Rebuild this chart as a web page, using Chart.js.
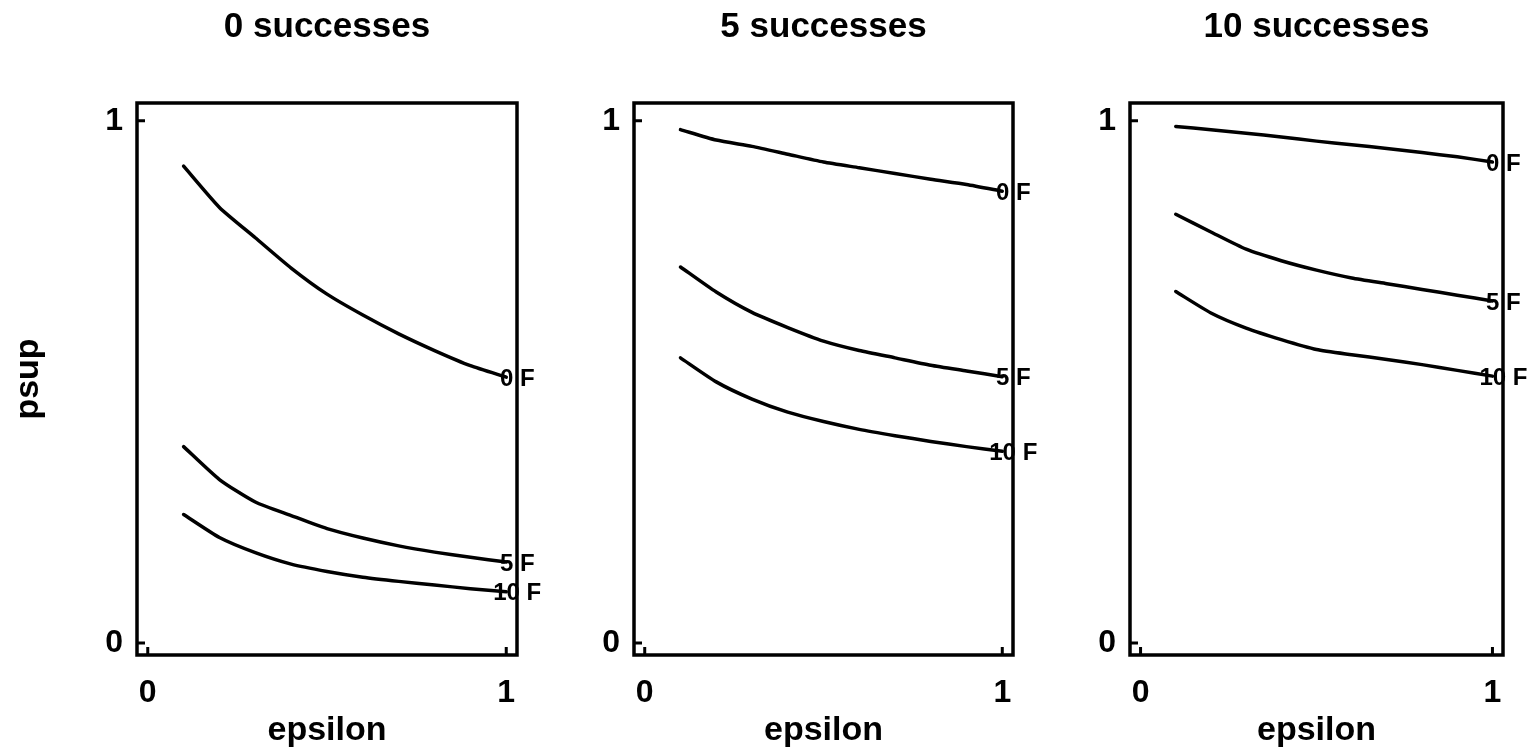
<!DOCTYPE html>
<html>
<head>
<meta charset="utf-8">
<title>psup vs epsilon</title>
<script src="https://cdn.jsdelivr.net/npm/chart.js@4/dist/chart.umd.min.js"></script>
<style>
  html, body { margin: 0; padding: 0; background: #fff; }
  #wrap { position: relative; width: 1530px; height: 755px; }
  #wrap canvas { position: absolute; left: 0; top: 0; }
</style>
</head>
<body>
<div id="wrap">
  <canvas id="panel0" width="1530" height="755"></canvas>
  <canvas id="panel1" width="1530" height="755"></canvas>
  <canvas id="panel2" width="1530" height="755"></canvas>
</div>
<script>
// x values shared by all curves
const epsilon = [0.1, 0.2, 0.3, 0.4, 0.5, 0.6, 0.7, 0.8, 0.9, 1.0];
const tickValues = [0, 1];
const panelTitles = ['0 successes', '5 successes', '10 successes'];
const curveLabels = ['0 F', '5 F', '10 F'];

// 0 successes
const psup0S0F = [0.913, 0.834, 0.776, 0.718, 0.668, 0.628, 0.592, 0.560, 0.531, 0.509];
const psup0S5F = [0.376, 0.313, 0.270, 0.244, 0.219, 0.201, 0.186, 0.174, 0.164, 0.155];
const psup0S10F = [0.246, 0.202, 0.173, 0.151, 0.137, 0.126, 0.118, 0.111, 0.104, 0.098];
// 5 successes
const psup5S0F = [0.983, 0.963, 0.951, 0.936, 0.921, 0.910, 0.899, 0.888, 0.878, 0.865];
const psup5S5F = [0.720, 0.672, 0.633, 0.604, 0.578, 0.560, 0.546, 0.532, 0.521, 0.510];
const psup5S10F = [0.546, 0.500, 0.467, 0.442, 0.424, 0.409, 0.397, 0.386, 0.376, 0.367];
// 10 successes
const psup10S0F = [0.989, 0.983, 0.976, 0.969, 0.961, 0.954, 0.947, 0.939, 0.931, 0.921];
const psup10S5F = [0.821, 0.787, 0.754, 0.732, 0.714, 0.699, 0.688, 0.677, 0.666, 0.655];
const psup10S10F = [0.673, 0.632, 0.603, 0.581, 0.562, 0.552, 0.543, 0.533, 0.522, 0.511];

const panelSeries = [
    [psup0S0F, psup0S5F, psup0S10F],
    [psup5S0F, psup5S5F, psup5S10F],
    [psup10S0F, psup10S5F, psup10S10F]
];

// frame edges of each panel (px)
const frameLeft = [137, 634, 1130];
const frameRight = [517, 1013, 1503];

const fontFamily = '"Liberation Sans", Arial, Helvetica, sans-serif';

// box around the plot, inward ticks and the curve end labels
const framePlugin = {
    id: 'frame',
    afterDatasetsDraw(chart) {
        const ctx = chart.ctx;
        const a = chart.chartArea;
        const x = chart.scales.x, y = chart.scales.y;
        ctx.save();
        ctx.strokeStyle = '#000';
        ctx.lineWidth = 3.5;
        ctx.strokeRect(a.left, a.top, a.right - a.left, a.bottom - a.top);

        ctx.lineWidth = 3;
        ctx.beginPath();
        tickValues.forEach(v => {
            const px = x.getPixelForValue(v);
            ctx.moveTo(px, a.bottom);
            ctx.lineTo(px, a.bottom - 8);
            const py = y.getPixelForValue(v);
            ctx.moveTo(a.left, py);
            ctx.lineTo(a.left + 8, py);
        });
        ctx.stroke();

        ctx.font = 'bold 24px ' + fontFamily;
        ctx.textAlign = 'center';
        ctx.textBaseline = 'middle';
        ctx.fillStyle = '#000';
        chart.data.datasets.forEach((ds, i) => {
            const pts = chart.getDatasetMeta(i).data;
            const p = pts[pts.length - 1];
            ctx.fillText(ds.label, p.x + 11, p.y + 2);
        });
        ctx.restore();
    }
};

function makePanel(i) {
    const yw = i === 0 ? 137 : 60;
    const ctx = document.getElementById('panel' + i).getContext('2d');
    return new Chart(ctx, {
        type: 'line',
        data: {
            datasets: panelSeries[i].map((vals, k) => ({
                label: curveLabels[k],
                data: epsilon.map((e, j) => ({ x: e, y: vals[j] })),
                borderColor: '#000',
                borderWidth: 3.5,
                borderJoinStyle: 'round',
                borderCapStyle: 'round',
                pointRadius: 0,
                tension: 0.2,
                fill: false
            }))
        },
        options: {
            responsive: false,
            animation: false,
            devicePixelRatio: 1,
            layout: {
                padding: { left: frameLeft[i] - yw, right: 1530 - frameRight[i], top: 0, bottom: 0 }
            },
            plugins: {
                legend: { display: false },
                tooltip: { enabled: false },
                title: {
                    display: true,
                    text: panelTitles[i],
                    fullSize: false,
                    color: '#000',
                    font: { family: fontFamily, size: 35, weight: 'bold' },
                    padding: { top: 6, bottom: 55 }
                }
            },
            scales: {
                x: {
                    type: 'linear',
                    min: -0.03,
                    max: 1.03,
                    afterBuildTicks: s => { s.ticks = tickValues.map(v => ({ value: v })); },
                    afterFit: s => { s.height = 100; },
                    grid: { display: false, drawTicks: false },
                    border: { display: false },
                    ticks: {
                        color: '#000',
                        padding: 19,
                        maxRotation: 0,
                        font: { family: fontFamily, size: 32, weight: 'bold' },
                        callback: v => String(v)
                    },
                    title: {
                        display: true,
                        text: 'epsilon',
                        color: '#000',
                        font: { family: fontFamily, size: 34, weight: 'bold' },
                        padding: { top: 0, bottom: 4 }
                    }
                },
                y: {
                    type: 'linear',
                    min: -0.023,
                    max: 1.034,
                    afterBuildTicks: s => { s.ticks = tickValues.map(v => ({ value: v })); },
                    afterFit: s => { s.width = yw; },
                    grid: { display: false, drawTicks: false },
                    border: { display: false },
                    ticks: {
                        color: '#000',
                        padding: 14,
                        font: { family: fontFamily, size: 32, weight: 'bold' },
                        callback: v => String(v)
                    },
                    title: {
                        display: i === 0,
                        text: 'psup',
                        color: '#000',
                        font: { family: fontFamily, size: 34, weight: 'bold' },
                        padding: { top: 8, bottom: 0 }
                    }
                }
            }
        },
        plugins: [framePlugin]
    });
}

[0, 1, 2].forEach(makePanel);
</script>
</body>
</html>
